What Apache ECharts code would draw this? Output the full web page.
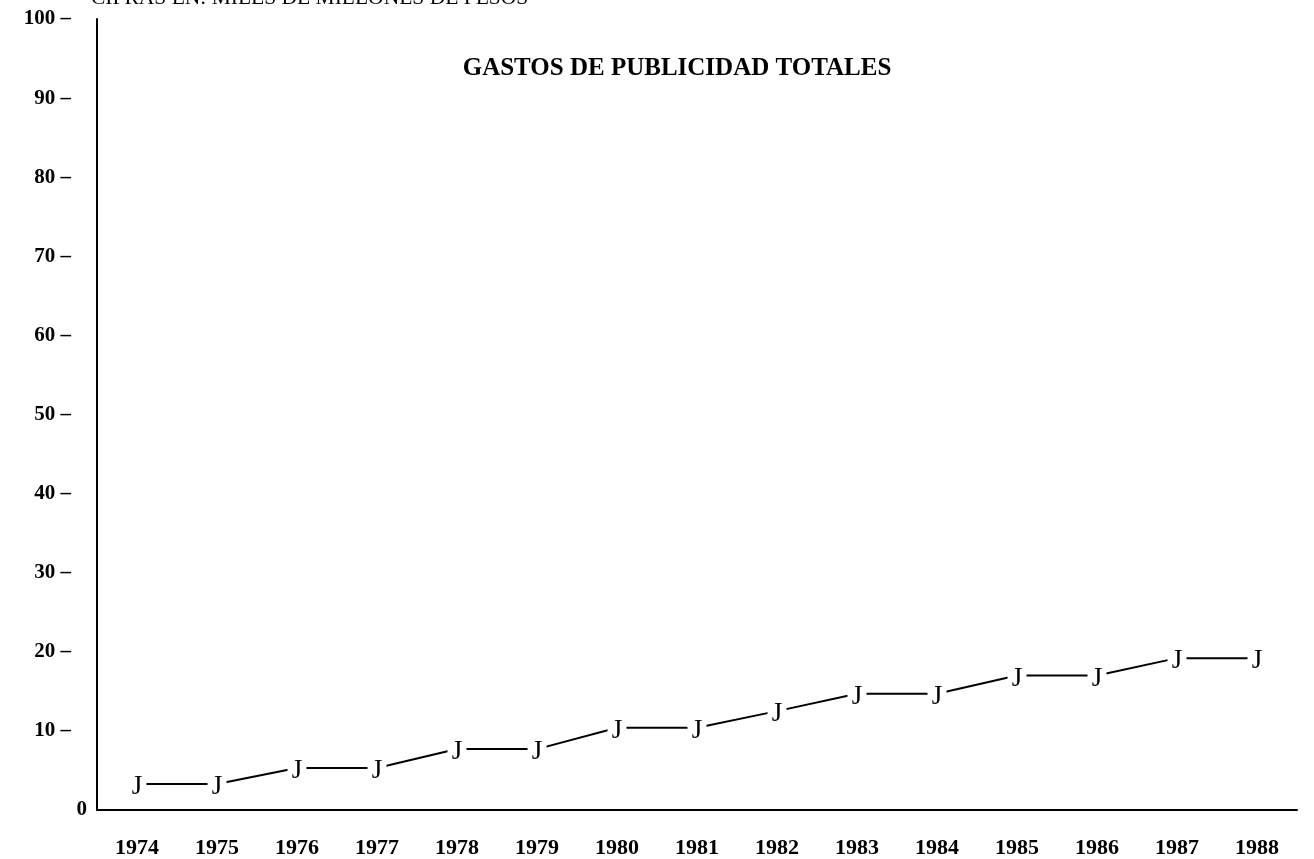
<!DOCTYPE html>
<html>
<head>
<meta charset="utf-8">
<script src="https://cdn.jsdelivr.net/npm/echarts@6/dist/echarts.min.js"></script>
<style>
html,body{margin:0;padding:0;background:#fff;}
#chart{width:1314px;height:859px;}
</style>
</head>
<body>
<div id="chart"></div>
<script>
const years = ['1974','1975','1976','1977','1978','1979','1980','1981','1982','1983','1984','1985','1986','1987','1988'];
const gastos = [3.3, 3.3, 5.3, 5.3, 7.7, 7.7, 10.4, 10.4, 12.5, 14.7, 14.7, 17.0, 17.0, 19.2, 19.2];
const yTicks = [0, 10, 20, 30, 40, 50, 60, 70, 80, 90, 100];
const titleText = 'GASTOS DE PUBLICIDAD TOTALES';
const unitText = 'CIFRAS EN: MILES DE MILLONES DE PESOS';

const serif = '"Liberation Serif", "DejaVu Serif", serif';
const chart = echarts.init(document.getElementById('chart'));
chart.setOption({
  animation: false,
  backgroundColor: '#fff',
  title: {
    text: titleText,
    left: 672, top: 51, textAlign: 'center',
    textStyle: {fontFamily: serif, fontWeight: 'bold', fontSize: 25, color: '#000'}
  },
  graphic: [{
    type: 'text', left: 91, top: -13,
    style: {text: unitText, font: '21.5px ' + serif, fill: '#000'}
  }],
  grid: {left: 97, right: 17, top: 19, bottom: 48},
  xAxis: {
    type: 'category', data: years, boundaryGap: true,
    axisLine: {lineStyle: {color: '#000', width: 2}},
    axisTick: {show: false},
    axisLabel: {margin: 27, fontFamily: serif, fontWeight: 'bold', fontSize: 22, color: '#000'}
  },
  yAxis: {
    type: 'value', min: yTicks[0], max: yTicks[yTicks.length - 1], interval: 10,
    splitLine: {show: false},
    axisTick: {show: false},
    axisLine: {show: true, lineStyle: {color: '#000', width: 2}},
    axisLabel: {
      margin: 10,
      formatter: v => v === 0 ? '{v|0}' : '{v|' + v + '}{d| –}',
      rich: {
        v: {fontFamily: serif, fontWeight: 'bold', fontSize: 21, color: '#000'},
        d: {fontFamily: serif, fontWeight: 'bold', fontSize: 21, color: '#000', padding: [0, 16, 0, 0]}
      }
    }
  },
  series: [{
    type: 'line', data: gastos,
    lineStyle: {color: '#000', width: 2},
    symbol: 'rect', symbolSize: [19, 24],
    itemStyle: {color: '#fff', borderWidth: 0},
    label: {
      show: true, position: 'inside', formatter: 'J', offset: [0, 3],
      fontFamily: serif, fontSize: 27, color: '#000'
    },
    z: 3
  }]
});
</script>
</body>
</html>
